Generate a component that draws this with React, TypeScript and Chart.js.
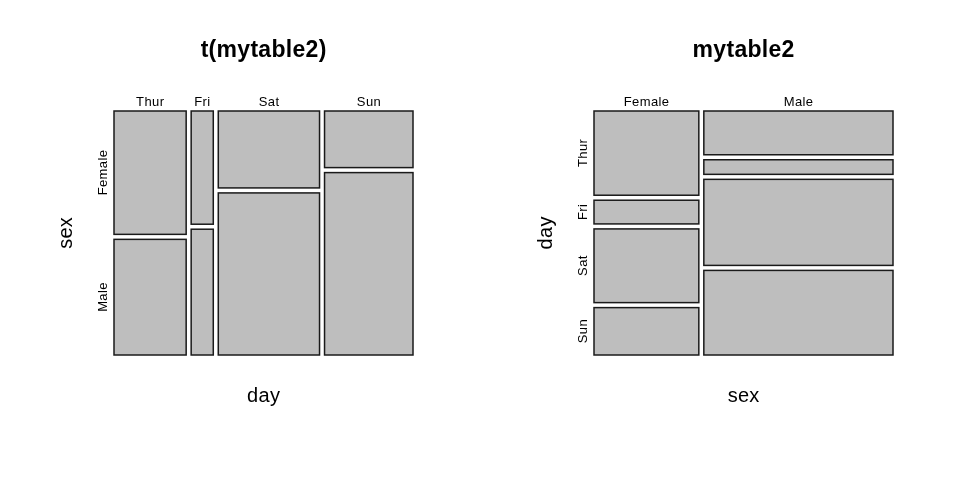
import React, { useEffect, useRef } from "react";
import { Chart, registerables } from "chart.js";
Chart.register(...registerables);

const days = ["Thur", "Fri", "Sat", "Sun"];
const sexes = ["Female", "Male"];
const femaleCounts = [32, 9, 28, 18];
const maleCounts = [30, 10, 59, 58];

const leftTitle = "t(mytable2)";
const rightTitle = "mytable2";

// counts[col][row]
const byDay = days.map((_, i) => [femaleCounts[i], maleCounts[i]]);
const bySex = [femaleCounts, maleCounts];

const FONT = "'Liberation Sans', Arial, sans-serif";

type PanelProps = {
  title: string;
  colLabels: string[];
  rowLabels: string[];
  counts: number[][];
  xTitle: string;
  yTitle: string;
};

function drawText(ctx: any, text: string, x: number, y: number, spacing: number) {
  ctx.letterSpacing = `${spacing}px`;
  ctx.fillText(text, x + spacing / 2, y);
  ctx.letterSpacing = "0px";
}

function Mosaic(props: PanelProps) {
  const ref = useRef<HTMLCanvasElement>(null);
  useEffect(() => {
    const { title, colLabels, rowLabels, counts, xTitle, yTitle } = props;
    const mosaicPlugin = {
      id: "mosaic",
      afterDraw(chart: any) {
        const ctx = chart.ctx;
        const area = chart.chartArea;
        const xs = chart.scales.x;
        const ys = chart.scales.y;
        const gapX = 5 / (area.right - area.left);
        const gapY = 5 / (area.bottom - area.top);
        const colTotals = counts.map((c) => c.reduce((a, b) => a + b, 0));
        const grand = colTotals.reduce((a, b) => a + b, 0);
        const availX = 1 - gapX * (counts.length - 1);
        let x0 = 0;
        ctx.save();
        counts.forEach((col, ci) => {
          const w = (colTotals[ci] / grand) * availX;
          const availY = 1 - gapY * (col.length - 1);
          let y0 = 0;
          const px0 = xs.getPixelForValue(x0);
          const px1 = xs.getPixelForValue(x0 + w);
          col.forEach((v, ri) => {
            const h = (v / colTotals[ci]) * availY;
            const py0 = ys.getPixelForValue(y0);
            const py1 = ys.getPixelForValue(y0 + h);
            ctx.fillStyle = "#BEBEBE";
            ctx.fillRect(px0, py0, px1 - px0, py1 - py0);
            ctx.strokeStyle = "#1a1a1a";
            ctx.lineWidth = 1.5;
            ctx.strokeRect(px0, py0, px1 - px0, py1 - py0);
            if (ci === 0) {
              ctx.save();
              ctx.fillStyle = "#000";
              ctx.font = `13px ${FONT}`;
              ctx.textAlign = "center";
              ctx.textBaseline = "middle";
              ctx.translate(area.left - 11, (py0 + py1) / 2);
              ctx.rotate(-Math.PI / 2);
              drawText(ctx, rowLabels[ri], 0, 0, 0.4);
              ctx.restore();
            }
            y0 += h + gapY;
          });
          ctx.fillStyle = "#000";
          ctx.font = `13px ${FONT}`;
          ctx.textAlign = "center";
          ctx.textBaseline = "middle";
          drawText(ctx, colLabels[ci], (px0 + px1) / 2, area.top - 9, 0.4);
          x0 += w + gapX;
        });
        const cx = (area.left + area.right) / 2;
        const cy = (area.top + area.bottom) / 2;
        ctx.fillStyle = "#000";
        ctx.textAlign = "center";
        ctx.textBaseline = "middle";
        ctx.font = `bold 23px ${FONT}`;
        drawText(ctx, title, cx, 51, 0.3);
        ctx.font = `20px ${FONT}`;
        drawText(ctx, xTitle, cx, 396, 0.3);
        ctx.save();
        ctx.translate(66, cy);
        ctx.rotate(-Math.PI / 2);
        drawText(ctx, yTitle, 0, 0, 0.3);
        ctx.restore();
        ctx.restore();
      },
    };
    const chart = new Chart(ref.current!, {
      type: "scatter",
      data: { datasets: [] },
      options: {
        animation: false,
        responsive: false,
        maintainAspectRatio: false,
        layout: { padding: { left: 114, right: 67, top: 111, bottom: 125 } },
        plugins: { legend: { display: false }, tooltip: { enabled: false } },
        scales: {
          x: { type: "linear", min: 0, max: 1, display: false },
          y: { type: "linear", min: 0, max: 1, reverse: true, display: false },
        },
      },
      plugins: [mosaicPlugin],
    } as any);
    return () => chart.destroy();
  }, []);
  return <canvas ref={ref} width={480} height={480} style={{ display: "block", width: 480, height: 480 }} />;
}

export default function App() {
  return (
    <div style={{ position: "absolute", left: 0, top: 0, width: 960, height: 480, display: "flex", background: "#fff" }}>
      <Mosaic title={leftTitle} colLabels={days} rowLabels={sexes} counts={byDay} xTitle="day" yTitle="sex" />
      <Mosaic title={rightTitle} colLabels={sexes} rowLabels={days} counts={bySex} xTitle="sex" yTitle="day" />
    </div>
  );
}
